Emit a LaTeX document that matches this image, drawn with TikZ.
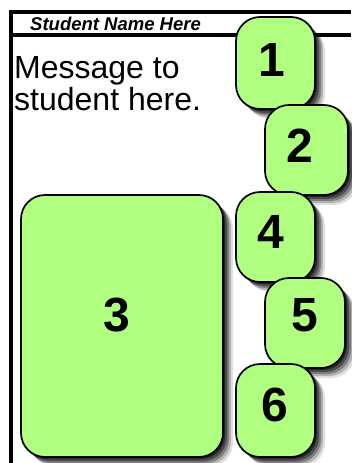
\documentclass[tikz,border=0pt]{standalone}
\usepackage{fontspec}
\setmainfont{Liberation Sans}
\usetikzlibrary{shadows}
\definecolor{boxgreen}{RGB}{176,255,128}
\begin{document}
\begin{tikzpicture}[x=1pt,y=-1pt,
  softshadow/.style={
    general shadow={fill=black,opacity=0.12,shadow xshift=10pt,shadow yshift=-10pt},
    general shadow={fill=black,opacity=0.2,shadow xshift=8pt,shadow yshift=-8pt},
    general shadow={fill=black,opacity=0.3,shadow xshift=6pt,shadow yshift=-6pt},
    general shadow={fill=black,opacity=0.4,shadow xshift=4pt,shadow yshift=-4pt},
    general shadow={fill=black,opacity=0.5,shadow xshift=2pt,shadow yshift=-2pt}},
  gbox/.style={softshadow, rectangle, rounded corners=24pt, draw=black, line width=1.7pt, fill=boxgreen, inner sep=0pt},
  num/.style={font=\fontsize{48}{48}\selectfont\bfseries, inner sep=0pt},
  msg/.style={font=\fontsize{32}{31}\selectfont, inner sep=0pt, anchor=base west},
  frameline/.style={line width=4pt, black}]
\useasboundingbox (0,0) rectangle (351,463);
% frame
\coordinate (ftl) at (9,12);
\coordinate (ftr) at (351,12);
\coordinate (flt) at (11,10);
\coordinate (flb) at (11,463);
\coordinate (fhl) at (11,34.5);
\coordinate (fhr) at (351,34.5);
\draw[frameline] (ftl) -- (ftr);
\draw[frameline] (flt) -- (flb);
\draw[frameline] (fhl) -- (fhr);
\node[font=\fontsize{18.5}{18.5}\selectfont\bfseries\itshape, inner sep=0pt, anchor=base west] (name) at (30,30) {Student Name Here};
\node[msg] (msg1) at (14,78) {Message to};
\node[msg] (msg2) at (14,110) {student here.};
% boxes
\node[gbox, minimum width=202pt, minimum height=262pt] (b3) at (122,326) {};
\node[gbox, minimum width=79pt, minimum height=92pt] (b1) at (275.5,63) {};
\node[gbox, minimum width=83pt, minimum height=90pt] (b2) at (306.5,150) {};
\node[gbox, minimum width=79pt, minimum height=90pt] (b4) at (275.5,237) {};
\node[gbox, minimum width=80pt, minimum height=90pt] (b5) at (305,323) {};
\node[gbox, minimum width=79pt, minimum height=93pt] (b6) at (275.5,410.5) {};
% numbers
\node[num] (n1) at ([shift={(-3.5,-3.5)}]b1.center) {1};
\node[num] (n2) at ([shift={(-7,-4.5)}]b2.center) {2};
\node[num] (n3) at ([shift={(-5,-11)}]b3.center) {3};
\node[num] (n4) at ([shift={(-5,-5)}]b4.center) {4};
\node[num] (n5) at ([shift={(-0.5,-7.5)}]b5.center) {5};
\node[num] (n6) at ([shift={(-1,-6)}]b6.center) {6};
\end{tikzpicture}
\end{document}
